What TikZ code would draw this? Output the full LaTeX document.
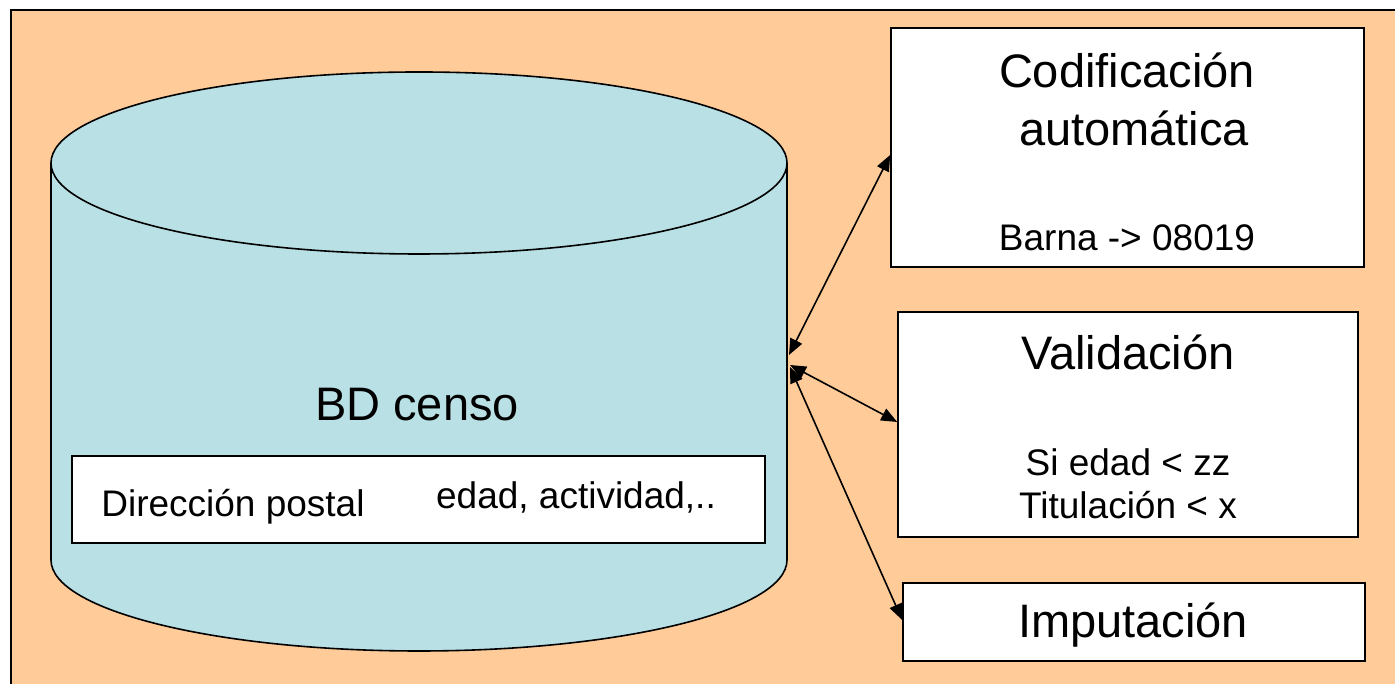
\documentclass[tikz,border=0pt]{standalone}
\usepackage{fontspec}
\setmainfont{Liberation Sans}
\usetikzlibrary{arrows.meta}
\definecolor{peach}{RGB}{255,204,153}
\definecolor{dbblue}{RGB}{185,224,228}
\tikzset{
  big/.style={font=\fontsize{47}{54}\selectfont, inner sep=0pt},
  small/.style={font=\fontsize{37}{44}\selectfont, inner sep=0pt},
  panel/.style={draw=black, fill=white, line width=1.6pt},
  link/.style={line width=1.6pt, {Triangle[length=16pt,width=13pt]}-{Triangle[length=16pt,width=13pt]}},
}
\begin{document}
\begin{tikzpicture}[x=1pt,y=1pt]
\useasboundingbox (0,0) rectangle (1395,684);
% background frame
\begin{scope}
\clip (0,0) rectangle (1395,684);
\draw[fill=peach, line width=1.6pt] (11,674) rectangle (1402,-8);
\end{scope}
% database cylinder
\draw[fill=dbblue, line width=1.6pt] (51,521) -- (51,124)
  arc[start angle=180, end angle=360, x radius=368pt, y radius=91pt] -- (787,521);
\draw[fill=dbblue, line width=1.6pt] (419,521) ellipse[x radius=368pt, y radius=91pt];
\node[big] (bd) at (417,279) {BD censo};
\node[panel, minimum width=693pt, minimum height=87pt, inner sep=0pt] (rec) at (418.5,184.5) {};
\node[small] (dir) at (233,177) {Dirección postal};
\node[small] (edad) at (576,187) {edad, actividad,..};
% process boxes
\node[panel, minimum width=473pt, minimum height=239pt, inner sep=0pt] (cod) at (1127.5,536.5) {};
\node[big] (codt1) at (1127,614) {Codificación};
\node[big] (codt2) at (1134,556) {automática};
\node[small] (codt3) at (1127,446) {Barna -> 08019};
\node[panel, minimum width=460pt, minimum height=225pt, inner sep=0pt] (val) at (1128,259.5) {};
\node[big] (valt1) at (1128,332) {Validación};
\node[small] (valt2) at (1128,222) {Si edad < zz};
\node[small] (valt3) at (1128,179) {Titulación < x};
\node[panel, minimum width=462pt, minimum height=78pt, inner sep=0pt] (imp) at (1134,62) {};
\node[big] (impt) at (1133,59) {Imputación};
% connectors
\coordinate (c1) at (789,329);
\coordinate (c2) at (790,319);
\coordinate (c3) at (790,317);
\draw[link] (c1) -- (cod.west |- 0,529);
\draw[link] (c2) -- (val.west |- 0,262);
\draw[link] (c3) -- (imp.west |- 0,64);
\end{tikzpicture}
\end{document}
